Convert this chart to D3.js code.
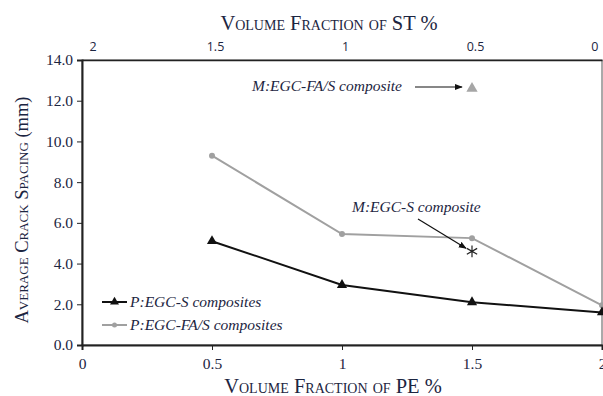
<!DOCTYPE html>
<html>
<head>
<meta charset="utf-8">
<script src="https://cdn.jsdelivr.net/npm/d3@7"></script>
<style>
  body { margin: 0; background: #fff; }
  svg { display: block; }
  text { font-family: "Liberation Serif", "Times New Roman", serif; fill: #1c2541; }
</style>
</head>
<body>
<svg width="603" height="396"></svg>
<script>
// data
const peFraction = [0.5, 1, 1.5, 2];
const egcS = [5.1, 2.95, 2.1, 1.6];
const egcFaS = [9.3, 5.45, 5.25, 1.95];
const stTicks = [2, 1.5, 1, 0.5, 0];
const peTicks = [0, 0.5, 1, 1.5, 2];
const yTicks = [0, 2, 4, 6, 8, 10, 12, 14];
const monoFaS = {pe: 1.5, value: 12.6};
const monoS = {pe: 1.5, value: 4.6};

const box = {left: 82, right: 602, top: 60, bottom: 345};
const svg = d3.select("svg");

const x = d3.scaleLinear().domain([0, 2]).range([box.left, box.right]);
const xTop = d3.scaleLinear().domain([2, 0]).range([box.left, box.right]);
const y = d3.scaleLinear().domain([0, 14]).range([box.bottom, box.top]);

// frame
svg.append("rect")
  .attr("x", box.left).attr("y", box.top)
  .attr("width", box.right - box.left).attr("height", box.bottom - box.top)
  .attr("fill", "none").attr("stroke", "#555").attr("stroke-width", 1);

// bottom axis
const xAxis = svg.append("g")
  .attr("transform", "translate(0," + box.bottom + ")")
  .call(d3.axisBottom(x).tickValues(peTicks).tickFormat(d3.format("")).tickSizeOuter(0).tickSize(5));
xAxis.select(".domain").attr("stroke", "#222").attr("stroke-width", 2);
xAxis.selectAll("text").attr("font-size", 15.5).attr("dy", "1em").style("font-family", "Liberation Serif");

// left axis
const yAxis = svg.append("g")
  .attr("transform", "translate(" + box.left + ",0)")
  .call(d3.axisLeft(y).tickValues(yTicks).tickFormat(d3.format(".1f")).tickSizeOuter(0).tickSize(5));
yAxis.select(".domain").attr("stroke", "#222").attr("stroke-width", 2);
yAxis.selectAll("text").attr("font-size", 15.5).attr("x", -9).style("font-family", "Liberation Serif");

// top axis (ST fraction)
const topAxis = svg.append("g")
  .attr("transform", "translate(0," + box.top + ")")
  .call(d3.axisTop(xTop).tickValues(stTicks).tickFormat(d3.format("")).tickSizeOuter(0).tickSize(0));
topAxis.select(".domain").attr("stroke", "#222").attr("stroke-width", 1.5);
topAxis.selectAll("text")
  .attr("font-size", 12.5).attr("y", -9)
  .style("font-family", "Open Sans, Liberation Sans, sans-serif")
  .attr("text-anchor", (d, i) => i === 0 ? "start" : (i === stTicks.length - 1 ? "end" : "middle"))
  .attr("dx", (d, i) => i === 0 ? 7 : (i === stTicks.length - 1 ? -4 : 3));

svg.selectAll(".tick line").attr("stroke", "#222");
svg.selectAll(".tick text").attr("fill", "#1c2541");

// axis titles
svg.append("text")
  .attr("x", 329).attr("y", 30)
  .attr("text-anchor", "middle").attr("font-size", 20.5)
  .style("font-variant", "small-caps")
  .text("Volume Fraction of ST %");

svg.append("text")
  .attr("x", 333).attr("y", 393)
  .attr("text-anchor", "middle").attr("font-size", 20.5)
  .style("font-variant", "small-caps")
  .text("Volume Fraction of PE %");

const yTitle = svg.append("text")
  .attr("transform", "translate(28,210) rotate(-90)")
  .attr("text-anchor", "middle").attr("font-size", 18.5);
yTitle.append("tspan").style("font-variant", "small-caps").text("Average Crack Spacing ");
yTitle.append("tspan").text("(mm)");

// series
const line = d3.line().x(d => x(d[0])).y(d => y(d[1]));
const sData = peFraction.map((p, i) => [p, egcS[i]]);
const faData = peFraction.map((p, i) => [p, egcFaS[i]]);

svg.append("path").datum(faData)
  .attr("d", line).attr("fill", "none")
  .attr("stroke", "#a0a0a0").attr("stroke-width", 2);
svg.selectAll(".faDot").data(faData).enter().append("circle")
  .attr("cx", d => x(d[0])).attr("cy", d => y(d[1])).attr("r", 3)
  .attr("fill", "#a0a0a0");

svg.append("path").datum(sData)
  .attr("d", line).attr("fill", "none")
  .attr("stroke", "#111").attr("stroke-width", 2);
const tri = d3.symbol().type(d3.symbolTriangle).size(45);
svg.selectAll(".sDot").data(sData).enter().append("path")
  .attr("d", tri)
  .attr("transform", d => "translate(" + x(d[0]) + "," + y(d[1]) + ")")
  .attr("fill", "#111");

// mono-fibre points
svg.append("path")
  .attr("d", d3.symbol().type(d3.symbolTriangle).size(55))
  .attr("transform", "translate(" + x(monoFaS.pe) + "," + y(monoFaS.value) + ")")
  .attr("fill", "#a6a6a6");

svg.append("path")
  .attr("d", d3.symbol().type(d3.symbolAsterisk).size(100))
  .attr("transform", "translate(" + x(monoS.pe) + "," + y(monoS.value) + ")")
  .attr("fill", "none").attr("stroke", "#222").attr("stroke-width", 1.2);

// annotations
const defs = svg.append("defs");
defs.append("marker").attr("id", "arr")
  .attr("viewBox", "0 0 10 10").attr("refX", 9).attr("refY", 5)
  .attr("markerWidth", 8).attr("markerHeight", 8).attr("orient", "auto")
  .attr("markerUnits", "userSpaceOnUse")
  .append("path").attr("d", "M0,1 L10,5 L0,9 Z").attr("fill", "#111");

svg.append("text")
  .attr("x", 252).attr("y", 91)
  .attr("font-size", 15.5).attr("font-style", "italic")
  .text("M:EGC-FA/S composite");
svg.append("line")
  .attr("x1", 415).attr("y1", 87).attr("x2", x(monoFaS.pe) - 10).attr("y2", 87)
  .attr("stroke", "#111").attr("stroke-width", 1.2).attr("marker-end", "url(#arr)");

svg.append("text")
  .attr("x", 352).attr("y", 212)
  .attr("font-size", 15.5).attr("font-style", "italic")
  .text("M:EGC-S composite");
svg.append("line")
  .attr("x1", 418).attr("y1", 219).attr("x2", x(monoS.pe) - 6).attr("y2", y(monoS.value) - 3)
  .attr("stroke", "#111").attr("stroke-width", 1.2).attr("marker-end", "url(#arr)");

// legend
const legend = [
  {name: "P:EGC-S composites", color: "#111", sym: "tri"},
  {name: "P:EGC-FA/S composites", color: "#a0a0a0", sym: "dot"}
];
legend.forEach((d, i) => {
  const ly = 302 + i * 23;
  svg.append("line").attr("x1", 102).attr("x2", 127).attr("y1", ly).attr("y2", ly)
    .attr("stroke", d.color).attr("stroke-width", 2);
  if (d.sym === "tri") {
    svg.append("path").attr("d", d3.symbol().type(d3.symbolTriangle).size(35))
      .attr("transform", "translate(114.5," + ly + ")").attr("fill", d.color);
  } else {
    svg.append("circle").attr("cx", 114.5).attr("cy", ly).attr("r", 2.5).attr("fill", d.color);
  }
  svg.append("text").attr("x", 130).attr("y", ly + 5)
    .attr("font-size", 15.5).attr("font-style", "italic")
    .text(d.name);
});
</script>
</body>
</html>
